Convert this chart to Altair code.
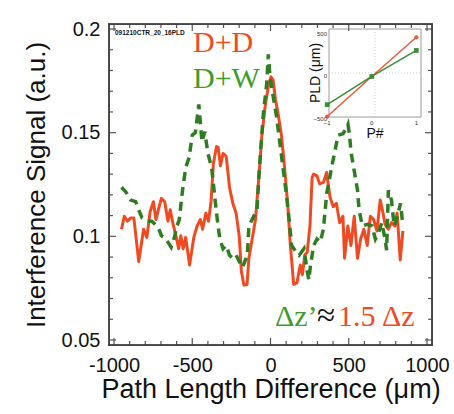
import altair as alt
import pandas as pd

# ---- main data ----
red_x = [-952, -934, -914, -893, -873, -842, -811, -790, -769, -748, -732, -711, -697, -676, -655, -641,
         -620, -604, -587, -573, -558, -542, -517, -490, -469, -448, -434, -413, -396, -380, -365, -345,
         -334, -320, -303, -283, -262, -241, -220, -200, -186, -170, -150, -138, -117, -96, -76, -55, -34,
         -14, 3, 17, 32, 49, 70, 90, 111, 127, 148, 169, 190, 204, 219, 235, 252, 266, 276, 297, 314, 338,
         359, 380, 401, 421, 442, 463, 473, 494, 514, 535, 556, 576, 597, 618, 638, 659, 680, 701, 717, 732,
         753, 773, 794, 809, 829, 846]
red_y = [0.1034, 0.1097, 0.1073, 0.1089, 0.1089, 0.0878, 0.1034, 0.0995, 0.1120, 0.1167, 0.1081, 0.1144,
         0.1183, 0.1167, 0.1073, 0.1128, 0.1050, 0.1003, 0.0940, 0.1003, 0.0940, 0.0995, 0.0862, 0.0995,
         0.1050, 0.1081, 0.1034, 0.1112, 0.1073, 0.1167, 0.1350, 0.1433, 0.1428, 0.1340, 0.1400, 0.1386,
         0.1237, 0.1160, 0.1113, 0.1003, 0.0831, 0.0765, 0.0768, 0.0894, 0.0987, 0.1081, 0.1269, 0.1488,
         0.1628, 0.1722, 0.1769, 0.1753, 0.1659, 0.1589, 0.1488, 0.1331, 0.1143, 0.0956, 0.0768, 0.0776,
         0.0862, 0.0815, 0.0909, 0.0925, 0.1050, 0.1284, 0.1300, 0.1292, 0.1253, 0.1260, 0.1308, 0.1190,
         0.1143, 0.1159, 0.1066, 0.1097, 0.0894, 0.1050, 0.0956, 0.1097, 0.0894, 0.0987, 0.1034, 0.0956,
         0.1097, 0.1081, 0.1026, 0.1175, 0.1120, 0.1058, 0.1034, 0.1066, 0.1050, 0.1112, 0.0886, 0.1026]

green_x = [-952, -924, -893, -862, -842, -821, -790, -759, -738, -717, -697, -676, -655, -635, -614, -597,
           -583, -562, -542, -520, -500, -480, -458, -438, -420, -400, -376, -365, -345, -324, -303, -283,
           -262, -241, -220, -200, -179, -148, -138, -107, -86, -76, -59, -45, -24, -14, -3, 17, 38, 59, 80,
           101, 121, 135, 156, 183, 214, 235, 245, 256, 276, 297, 318, 338, 359, 390, 411, 432, 463, 483,
           495, 505, 514, 535, 556, 566, 587, 618, 649, 670, 691, 711, 732, 742, 753, 773, 790, 811, 831, 846]
green_y = [0.1237, 0.1214, 0.1175, 0.1167, 0.1128, 0.1089, 0.1073, 0.1073, 0.1058, 0.1042, 0.1003, 0.0995,
           0.0972, 0.0948, 0.0995, 0.1050, 0.1081, 0.1222, 0.1331, 0.1380, 0.1488, 0.1500, 0.1636, 0.1456,
           0.1505, 0.1400, 0.1331, 0.1253, 0.1112, 0.0987, 0.0940, 0.0956, 0.0909, 0.0894, 0.0909, 0.0880,
           0.0850, 0.0909, 0.1050, 0.1097, 0.1128, 0.1269, 0.1456, 0.1597, 0.1737, 0.1878, 0.1769, 0.1675,
           0.1581, 0.1456, 0.1331, 0.1206, 0.1066, 0.0956, 0.0933, 0.0909, 0.0940, 0.0830, 0.0790, 0.0862,
           0.0956, 0.0987, 0.0972, 0.1034, 0.1206, 0.1331, 0.1409, 0.1488, 0.1495, 0.1519, 0.1540, 0.1488,
           0.1409, 0.1316, 0.1222, 0.1128, 0.1050, 0.1058, 0.1050, 0.0987, 0.1019, 0.1066, 0.0987, 0.0933,
           0.1222, 0.1175, 0.1050, 0.1097, 0.1159, 0.1050]

x_major = [-1000, -500, 0, 500, 1000]
x_minor = [-900, -800, -700, -600, -400, -300, -200, -100, 100, 200, 300, 400, 600, 700, 800, 900]
y_major = [0.05, 0.1, 0.15, 0.2]
y_minor = [0.06, 0.07, 0.08, 0.09, 0.11, 0.12, 0.13, 0.14, 0.16, 0.17, 0.18, 0.19]

# ---- inset data ----
inset_p = [-1, 0, 1]
inset_red = [-470, 0, 460]
inset_green = [-330, 0, 305]
inset_xticks = [-1, 0, 1]
inset_yticks = [-500, 0, 500]

RED = "#f04a23"
GREEN = "#2f7d23"
GREEN_TXT = "#3f9b2e"
SANS = "Liberation Sans"
SERIF = "Liberation Serif"
FRAME = "#3a3a3a"
TICK = "#555555"

W, H = 323, 321
XMIN, XMAX, YMIN, YMAX = -1000, 1000, 0.05, 0.2

IX0, IX1, IYB, IYT = 220, 312, 93, 5
IPMIN, IPMAX, IVMIN, IVMAX = -1, 1, -500, 500

xs = alt.Scale(domain=[XMIN, XMAX], nice=False, zero=False)
ys = alt.Scale(domain=[YMIN, YMAX], nice=False, zero=False)
xaxis = alt.Axis(values=x_major, labelExpr="'' + datum.value", ticks=False, domain=False, grid=False,
                 labelFlush=False, labelFont=SANS, labelFontSize=20, labelColor="#111", labelPadding=10,
                 title="Path Length Difference (μm)", titleFont=SANS, titleFontSize=27,
                 titleFontWeight="normal", titleColor="#111", titlePadding=1)
yaxis = alt.Axis(values=y_major, labelExpr="'' + datum.value", ticks=False, domain=False, grid=False,
                 labelFlush=False, labelFont=SANS, labelFontSize=20, labelColor="#111", labelPadding=9,
                 title="Interference Signal (a.u.)", titleFont=SANS, titleFontSize=26,
                 titleFontWeight="normal", titleColor="#111", titlePadding=12)

df_red = pd.DataFrame({"x": red_x, "y": red_y})
df_green = pd.DataFrame({"x": green_x, "y": green_y})

red_line = alt.Chart(df_red).mark_line(color=RED, strokeWidth=3, strokeJoin="round").encode(
    x=alt.X("x:Q", scale=xs, axis=xaxis), y=alt.Y("y:Q", scale=ys, axis=yaxis))
green_line = alt.Chart(df_green).mark_line(color=GREEN, strokeWidth=3.5, strokeDash=[9, 6]).encode(
    x=alt.X("x:Q", scale=xs), y=alt.Y("y:Q", scale=ys))

# ticks drawn as thin filled bars (fill instead of stroke)
def xticks(vals, length):
    d = pd.DataFrame({"tx": vals})
    b = alt.Chart(d).mark_bar(color=TICK, size=1.2, orient="vertical").encode(
        x=alt.X("tx:Q", scale=xs), y=alt.value(H), y2=alt.value(H - length))
    t = alt.Chart(d).mark_bar(color=TICK, size=1.2, orient="vertical").encode(
        x=alt.X("tx:Q", scale=xs), y=alt.value(0), y2=alt.value(length))
    return [b, t]

def yticks(vals, length):
    d = pd.DataFrame({"ty": vals})
    l = alt.Chart(d).mark_bar(color=TICK, size=1.2, orient="horizontal").encode(
        y=alt.Y("ty:Q", scale=ys), x=alt.value(0), x2=alt.value(length))
    r = alt.Chart(d).mark_bar(color=TICK, size=1.2, orient="horizontal").encode(
        y=alt.Y("ty:Q", scale=ys), x=alt.value(W - length), x2=alt.value(W))
    return [l, r]

def label(text, px, py, color, font, size, weight="normal", align="left", baseline="alphabetic", angle=0):
    return alt.Chart(pd.DataFrame({"t": [text]})).mark_text(
        color=color, font=font, fontSize=size, fontWeight=weight, align=align, baseline=baseline,
        angle=angle).encode(text="t:N", x=alt.value(px), y=alt.value(py))

# frame drawn as four thin filled rectangles
def band(x1, x2, y1, y2):
    return alt.Chart(pd.DataFrame({"e": [1]})).mark_rect(color=FRAME, strokeWidth=0).encode(
        x=alt.value(x1), x2=alt.value(x2), y=alt.value(y1), y2=alt.value(y2))

frame_bands = [band(-0.7, W + 0.7, -0.7, 0.7), band(-0.7, W + 0.7, H - 0.7, H + 0.7),
               band(-0.7, 0.7, -0.7, H + 0.7), band(W - 0.7, W + 0.7, -0.7, H + 0.7)]

annots = [
    label("091210CTR_20_16PLD", 6, 11, "#111", SANS, 6.5, weight="bold"),
    label("D+D", 84, 28, RED, SERIF, 30),
    label("D+W", 84, 64, GREEN_TXT, SERIF, 30),
    label("Δz’", 166, 302, GREEN_TXT, SERIF, 30),
    label("≈", 208, 302, "#111", SERIF, 33),
    label("1.5", 229, 302, RED, SERIF, 30),
    label("Δz", 273, 302, RED, SERIF, 30),
]

to_mx = (f"{XMIN} + ({IX0} + (datum.p - ({IPMIN})) / ({IPMAX} - ({IPMIN})) * ({IX1} - {IX0}))"
         f" * ({XMAX} - ({XMIN})) / {W}")
to_my = (f"{YMAX} - ({IYB} - (datum.v - ({IVMIN})) / ({IVMAX} - ({IVMIN})) * ({IYB} - {IYT}))"
         f" * ({YMAX} - {YMIN}) / {H}")

inset_frame = alt.Chart(pd.DataFrame({"f": [1]})).mark_rect(
    fill="white", stroke="#9a9a9a", strokeWidth=1).encode(
    x=alt.value(IX0), x2=alt.value(IX1), y=alt.value(IYT), y2=alt.value(IYB))
gridv = alt.Chart(pd.DataFrame({"f": [1]})).mark_rule(color="#cfcfcf", strokeDash=[1, 2]).encode(
    x=alt.value((IX0 + IX1) / 2), y=alt.value(IYT), y2=alt.value(IYB))
gridh = alt.Chart(pd.DataFrame({"f": [1]})).mark_rule(color="#cfcfcf", strokeDash=[1, 2]).encode(
    y=alt.value((IYB + IYT) / 2), x=alt.value(IX0), x2=alt.value(IX1))

def inset_line(vals, color, shape, size):
    d = pd.DataFrame({"p": inset_p, "v": vals})
    base = alt.Chart(d).transform_calculate(mx=to_mx, my=to_my)
    ln = base.mark_line(color=color, strokeWidth=1.5).encode(
        x=alt.X("mx:Q", scale=xs), y=alt.Y("my:Q", scale=ys))
    pt = base.mark_point(color=color, filled=True, opacity=1, shape=shape, size=size).encode(
        x=alt.X("mx:Q", scale=xs), y=alt.Y("my:Q", scale=ys))
    return [ln, pt]

in_xlab = alt.Chart(pd.DataFrame({"p": inset_xticks})).transform_calculate(mx=to_mx).mark_text(
    font=SANS, fontSize=6, color="#333", baseline="top").encode(
    x=alt.X("mx:Q", scale=xs), y=alt.value(IYB + 3), text=alt.Text("p:Q", format="d"))
in_ylab = alt.Chart(pd.DataFrame({"v": inset_yticks})).transform_calculate(my=to_my).mark_text(
    font=SANS, fontSize=6, color="#333", align="right", baseline="middle").encode(
    y=alt.Y("my:Q", scale=ys), x=alt.value(IX0 - 2), text=alt.Text("v:Q", format="d"))

in_title_y = label("PLD (μm)", 207, 49, "#111", SANS, 14, align="center", baseline="middle", angle=270)
in_title_x = label("P#", 266, 110, "#111", SANS, 14, align="center", baseline="middle")

layers = [red_line, green_line, *annots,
          inset_frame, gridv, gridh,
          *inset_line(inset_red, "#f0583a", "circle", 18),
          *inset_line(inset_green, "#3c8c35", "square", 22),
          in_xlab, in_ylab, in_title_y, in_title_x,
          *xticks(x_major, 7), *xticks(x_minor, 4),
          *yticks(y_major, 7), *yticks(y_minor, 4), *frame_bands]

chart = alt.layer(*layers).properties(
    width=W, height=H,
    padding={"left": 109, "top": 24, "right": 22, "bottom": 69},
    autosize=alt.AutoSizeParams(type="none"),
).configure_view(stroke=FRAME, strokeWidth=1.4)

chart.save("out.html", embed_options={"renderer": "svg", "actions": False})
